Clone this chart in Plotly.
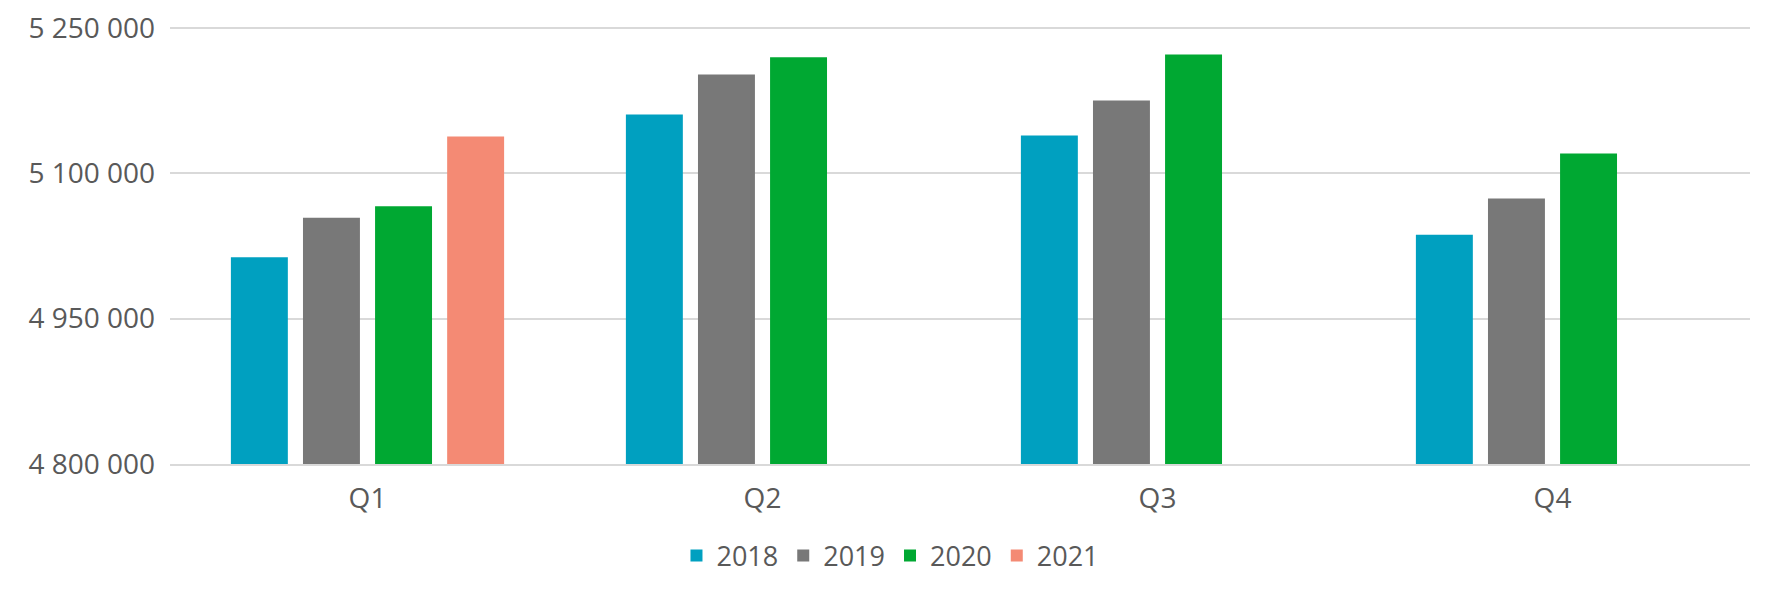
import plotly.graph_objects as go

categories = ["Q1", "Q2", "Q3", "Q4"]
years = ["2018", "2019", "2020", "2021"]
v2018 = [5013300, 5160600, 5139000, 5036700]
v2019 = [5054000, 5202000, 5175000, 5073900]
v2020 = [5066000, 5219700, 5222500, 5120300]
v2021 = [5138000, None, None, None]
colors = ["#00A0C0", "#787878", "#00A832", "#F48A74"]

fig = go.Figure()
for name, vals, c in zip(years, [v2018, v2019, v2020, v2021], colors):
    fig.add_trace(go.Bar(x=categories, y=vals, name=name,
                         marker=dict(color=c, line=dict(width=0))))

font_family = "'Open Sans', 'Noto Sans', sans-serif"
fig.update_layout(
    width=1772, height=590,
    margin=dict(l=162, r=30, t=18, b=134),
    plot_bgcolor="white", paper_bgcolor="white",
    barmode="group", bargap=0.27, bargroupgap=0.21,
    separators=". ",
    font=dict(family=font_family, size=28, color="#595959"),
    legend=dict(orientation="h", x=0.456, xanchor="center",
                y=-0.21, yanchor="middle",
                font=dict(size=27, color="#595959"), itemwidth=30, traceorder="normal"),
    showlegend=True,
)
fig.update_yaxes(range=[4800000, 5252000], dtick=150000, tick0=4800000, tickformat=",d",
                 showgrid=True, gridcolor="#D9D9D9", gridwidth=2, zeroline=False,
                 showline=False, ticks="", ticklabelstandoff=14, automargin=False,
                 ticklabeloverflow="allow")
fig.update_xaxes(showline=True, linecolor="#D9D9D9", linewidth=2, ticks="",
                 ticklabelstandoff=8, automargin=False)

fig.write_html("out.html")
